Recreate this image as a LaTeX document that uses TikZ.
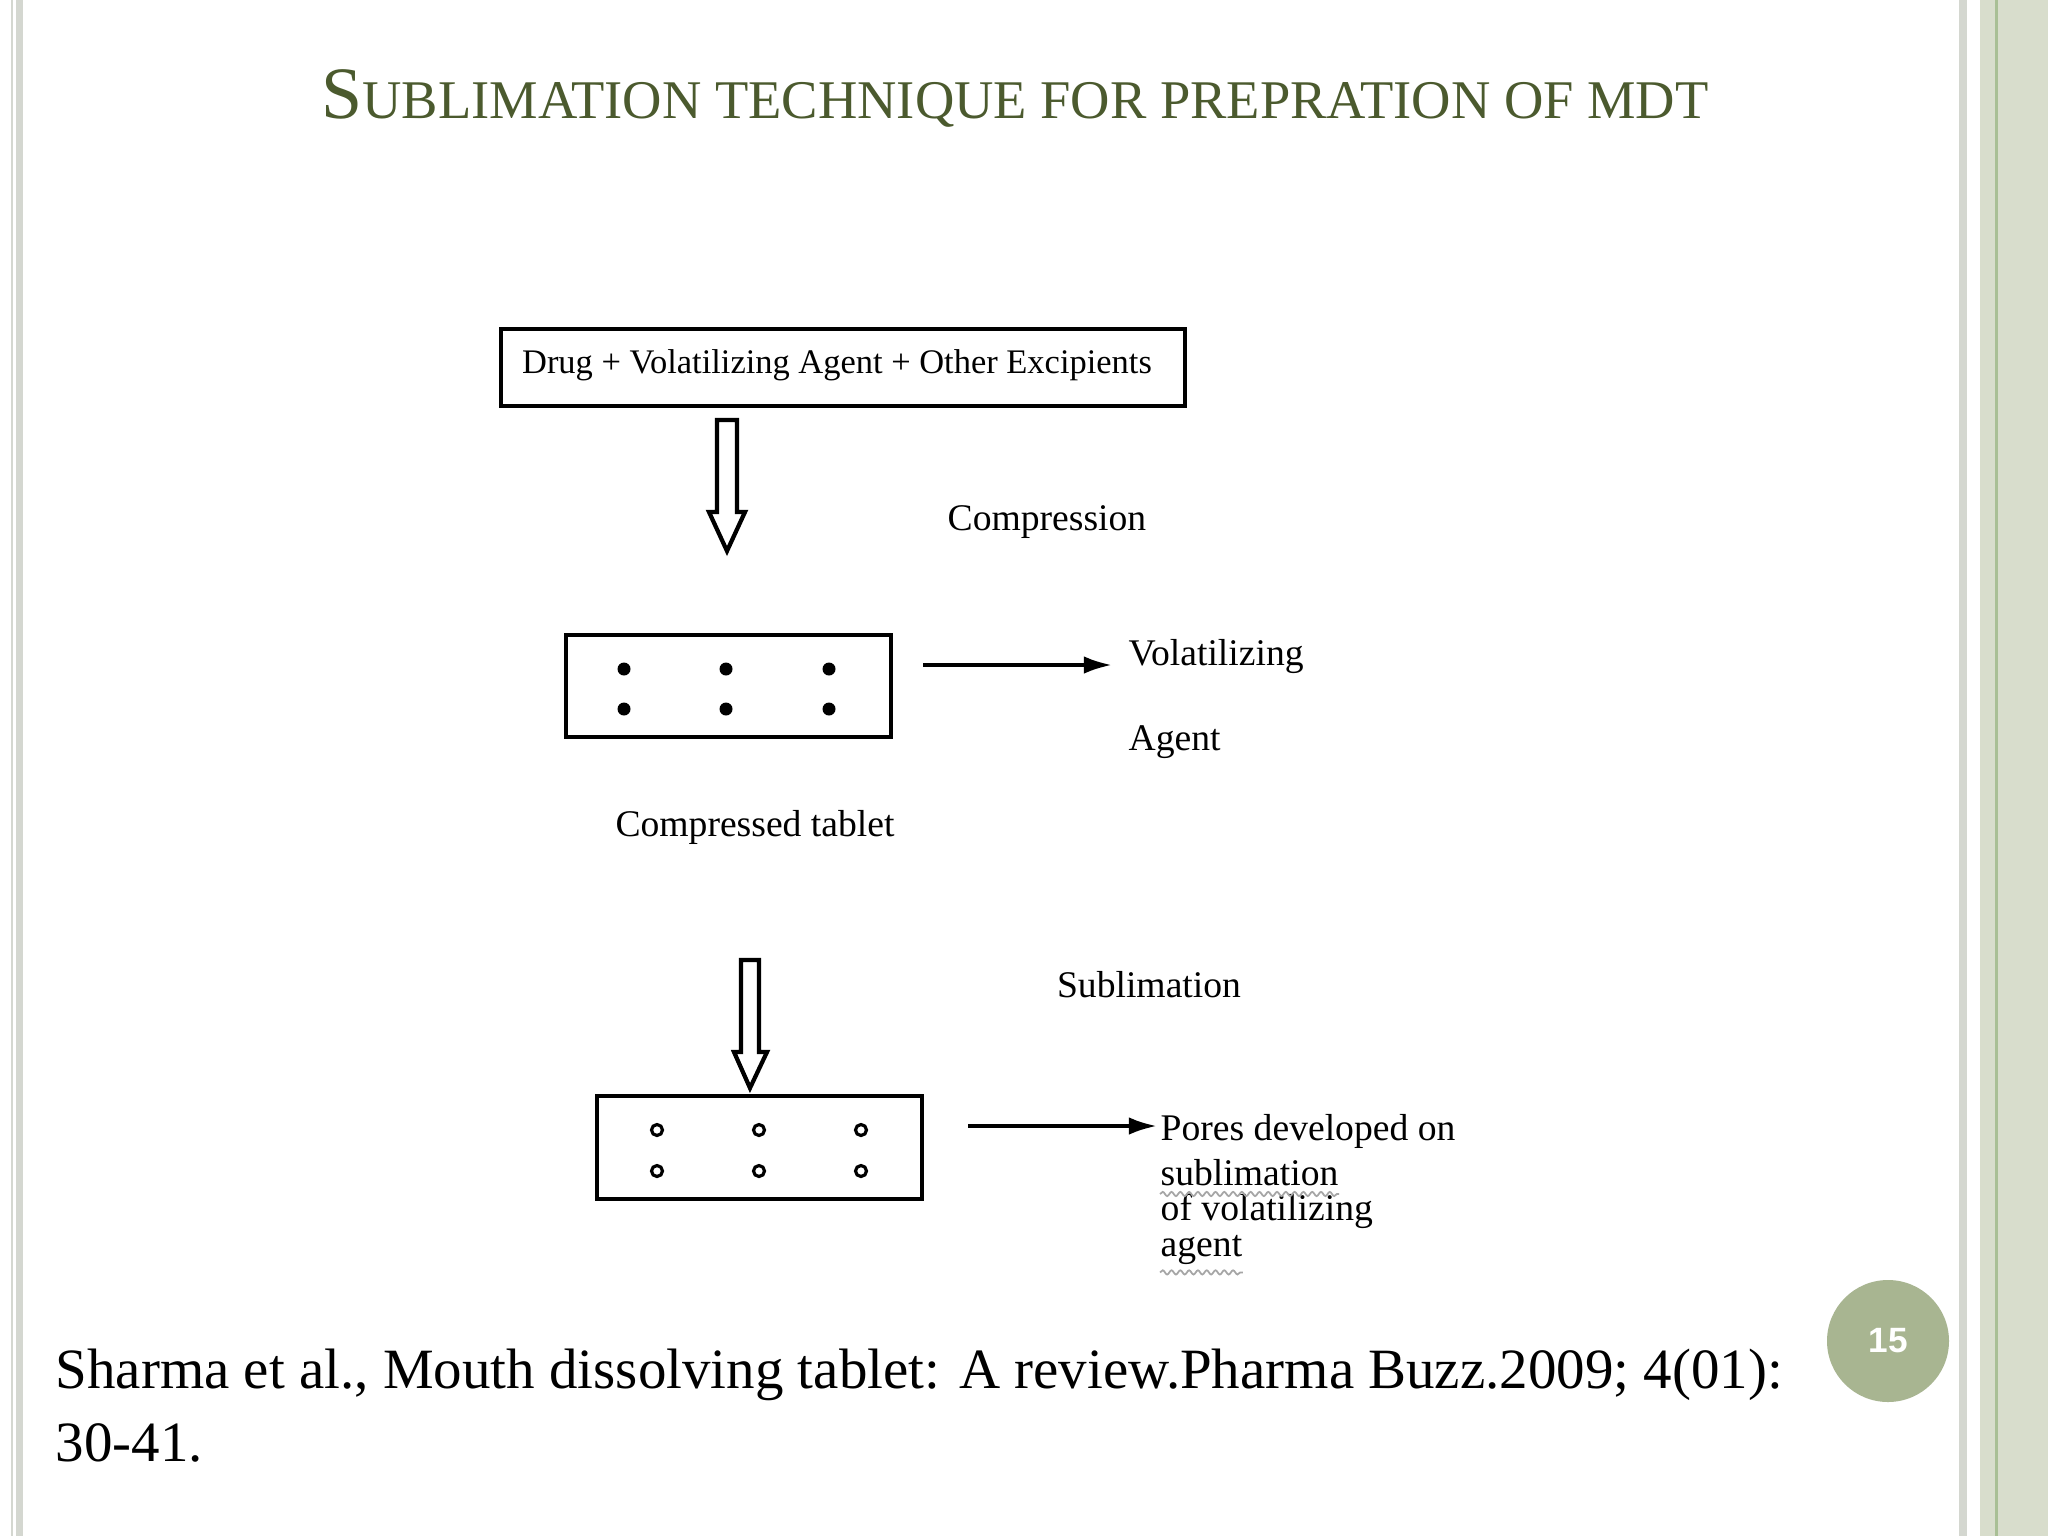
\documentclass[tikz,border=0pt]{standalone}
\usepackage{fontspec}
\setmainfont{Liberation Serif}
\newfontfamily\lsans{Liberation Sans}
\usetikzlibrary{decorations.pathmorphing,arrows.meta}
\definecolor{titlec}{HTML}{4B5A2E}
\definecolor{circc}{HTML}{A8B591}
\definecolor{bandg}{HTML}{D8DDCC}
\definecolor{lineg}{HTML}{A9BF95}
\definecolor{grayl}{HTML}{D4D7D0}
\tikzset{
  pbox/.style={draw,line width=1.3pt},
  lbl/.style={font=\fontsize{10.7}{12}\selectfont,inner sep=0},
  hollow/.style={draw,line width=1.2pt,fill=white},
  thinarrow/.style={line width=1.1pt,-{Latex[length=8pt,width=5pt]}},
  squig/.style={draw=gray!70,line width=0.5pt,decorate,decoration={snake,amplitude=0.6pt,segment length=2.5pt}}
}
\begin{document}
\begin{tikzpicture}[x=0.01cm,y=-0.01cm]
\useasboundingbox (0,0) rectangle (2048,1536);
\fill[white] (0,0) rectangle (2048,1536);
% borders
\fill[grayl] (11,0) rectangle (13,1536);
\fill[grayl] (16,0) rectangle (23,1536);
\fill[grayl] (1959,0) rectangle (1967,1536);
\fill[bandg] (1980,0) rectangle (2048,1536);
\fill[lineg] (1995,0) rectangle (1998,1536);
% title
\node[text=titlec,font=\fontsize{15.5}{20}\selectfont,inner sep=0] (title) at (1015,98) {{\fontsize{21}{24}\selectfont S}UBLIMATION TECHNIQUE FOR PREPRATION OF MDT};
% box1
\draw[pbox] (501,329) rectangle (1185,406);
\coordinate (b1) at (837,365);
\node[lbl,font=\fontsize{9.8}{12}\selectfont] (t1) at (b1) {Drug + Volatilizing Agent + Other Excipients};
% hollow arrow 1
\draw[hollow] (717,420) -- (737,420) -- (737,512) -- (745,512) -- (727,551) -- (709,512) -- (717,512) -- cycle;
\node[lbl] (comp) at (1047,522) {Compression};
% box2
\draw[pbox] (566,635) rectangle (891,737);
\foreach \x in {624,726,829}{\foreach \y in {669,709}{\fill (\x,\y) circle (6.5);}}
\coordinate (v1) at (923,665);
\coordinate (v2) at (1112,665);
\draw[thinarrow] (v1) -- (v2);
\node[lbl,anchor=west] (vol) at (1128,656) {Volatilizing};
\node[lbl,anchor=west] (agent) at (1128,742) {Agent};
\node[lbl] (ct) at (755,827) {Compressed tablet};
% hollow arrow 2
\draw[hollow] (741,960) -- (759,960) -- (759,1052) -- (767,1052) -- (750,1088) -- (734,1052) -- (741,1052) -- cycle;
\node[lbl] (subl) at (1149,985) {Sublimation};
% box3
\draw[pbox] (597,1096) rectangle (922,1199);
\foreach \x in {657,759,861}{\foreach \y in {1130,1171}{\draw[line width=0.9pt] (\x,\y) circle (5.5);}}
\coordinate (p1) at (968,1126);
\coordinate (p2) at (1157,1126);
\draw[thinarrow] (p1) -- (p2);
\node[lbl,anchor=west] (pl1) at (1160,1131) {Pores developed on};
\node[lbl,anchor=west] (pl2) at (1160,1173) {sublimation};
\node[lbl,anchor=west] (pl3) at (1160,1211) {of volatilizing};
\node[lbl,anchor=west] (pl4) at (1160,1250) {agent};
\draw[squig] ([yshift=-2pt]pl2.south west) -- ([yshift=-2pt]pl2.south east);
\draw[squig] ([yshift=-2pt]pl4.south west) -- ([yshift=-2pt]pl4.south east);
% citation
\node[anchor=west,inner sep=0,font=\fontsize{16.2}{19}\selectfont] (c1) at (55,1375) {Sharma et al., Mouth dissolving tablet: A review.Pharma Buzz.2009; 4(01):};
\node[anchor=west,inner sep=0,font=\fontsize{16.2}{19}\selectfont] (c2) at (55,1443) {30-41.};
% page number
\fill[circc] (1888,1341) circle (61);
\node[text=white,font=\lsans\bfseries\fontsize{10}{12}\selectfont] (pg) at (1888,1341) {15};
\end{tikzpicture}
\end{document}
